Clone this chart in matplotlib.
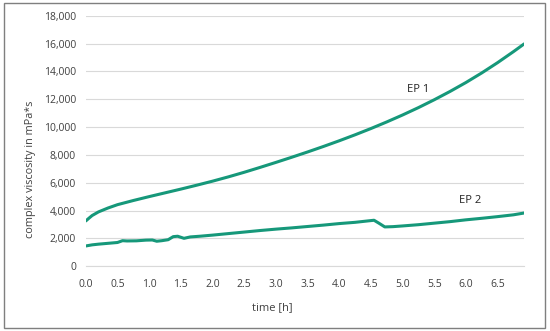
import matplotlib.pyplot as plt
from matplotlib.patches import Rectangle

# EP 1 readings (time in h, complex viscosity in mPa*s)
ep1_time = [0.0, 0.05, 0.1, 0.2, 0.35, 0.5, 0.75, 1.0, 1.25, 1.5, 1.75, 2.0, 2.25, 2.5, 2.75,
            3.0, 3.25, 3.5, 3.75, 4.0, 4.25, 4.5, 4.75, 5.0, 5.25, 5.5, 5.75, 6.0, 6.25,
            6.5, 6.75, 6.92]
ep1_visc = [3250, 3450, 3640, 3900, 4180, 4420, 4720, 5000, 5270, 5540, 5820, 6110, 6420, 6750, 7100,
            7460, 7830, 8210, 8605, 9015, 9445, 9895, 10370, 10870, 11400, 11965, 12565, 13205, 13895,
            14635, 15425, 15985]

# EP 2 readings
ep2_time = [0.0, 0.1, 0.2, 0.35, 0.5, 0.58, 0.65, 0.8, 0.95, 1.05, 1.12, 1.2, 1.3, 1.38, 1.45,
            1.55, 1.65, 1.8, 2.0, 2.25, 2.5, 2.75, 3.0, 3.25, 3.5, 3.75, 4.0, 4.25, 4.45, 4.55,
            4.63, 4.72, 4.85, 5.0, 5.25, 5.5, 5.75, 6.0, 6.25, 6.5, 6.75, 6.92]
ep2_visc = [1450, 1530, 1580, 1640, 1700, 1830, 1810, 1820, 1870, 1880, 1790, 1830, 1900, 2120, 2150,
            2000, 2100, 2150, 2230, 2340, 2450, 2560, 2660, 2750, 2850, 2950, 3060, 3150, 3250, 3300,
            3080, 2820, 2840, 2890, 2980, 3090, 3200, 3330, 3440, 3560, 3690, 3820]

x_ticks = [0.0, 0.5, 1.0, 1.5, 2.0, 2.5, 3.0, 3.5, 4.0, 4.5, 5.0, 5.5, 6.0, 6.5]
y_ticks = [0, 2000, 4000, 6000, 8000, 10000, 12000, 14000, 16000, 18000]

color = '#16987a'
plt.rcParams['font.family'] = ['Open Sans', 'DejaVu Sans']

fig = plt.figure(figsize=(5.5, 3.31), dpi=100)
ax = fig.add_axes([0.156, 0.196, 0.797, 0.756])

ax.plot(ep1_time, ep1_visc, color=color, lw=2.2, solid_capstyle='round')
ax.plot(ep2_time, ep2_visc, color=color, lw=2.2, solid_capstyle='round')

ax.set_xlim(0, 6.92)
ax.set_ylim(0, 18000)
ax.set_xticks(x_ticks)
ax.set_xticklabels([f'{t:.1f}' for t in x_ticks])
ax.set_yticks(y_ticks)
ax.set_yticklabels([f'{v:,}' for v in y_ticks])
ax.tick_params(axis='x', length=0, labelsize=7.5, colors='#404040', pad=9)
ax.tick_params(axis='y', length=0, labelsize=7.5, colors='#404040', pad=7)
ax.grid(axis='y', color='#d9d9d9', lw=0.8)
ax.set_axisbelow(True)
for s in ['top', 'right', 'left']:
    ax.spines[s].set_visible(False)
ax.spines['bottom'].set_color('#d9d9d9')

ax.set_xlabel('time [h]', fontsize=8, color='#404040')
ax.set_ylabel('complex viscosity in mPa*s', fontsize=7.8, color='#404040')
ax.xaxis.set_label_coords(0.425, -0.144)
ax.yaxis.set_label_coords(-0.114, 0.385)

ax.text(5.25, 12700, 'EP 1', fontsize=8, ha='center', va='center', color='#222222')
ax.text(6.07, 4700, 'EP 2', fontsize=8, ha='center', va='center', color='#222222')

fig.patches.append(Rectangle((0.008, 0.01), 0.983, 0.98, transform=fig.transFigure,
                             fill=False, ec='#7f7f7f', lw=1))

fig.savefig('out.png', dpi=100)
